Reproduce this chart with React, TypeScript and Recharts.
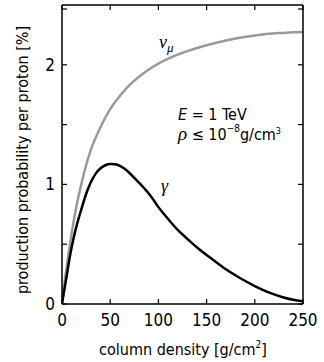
import React from "react";
import { LineChart, Line, XAxis, YAxis } from "recharts";

const numuX = [0, 2, 5, 10, 15, 20, 25, 30, 40, 50, 60, 70, 80, 90, 100, 120, 140, 160, 180, 200, 225, 250];
const numuY = [0, 0.14, 0.32, 0.59, 0.82, 1.0, 1.16, 1.29, 1.48, 1.63, 1.74, 1.83, 1.9, 1.96, 2.01, 2.085, 2.14, 2.185, 2.22, 2.245, 2.265, 2.275];

const gammaX = [0, 2, 5, 8, 12, 16, 20, 25, 30, 35, 40, 45, 50, 55, 60, 65, 70, 75, 80, 85, 90, 95, 100, 106, 112, 120, 130, 142, 155, 170, 185, 200, 215, 230, 240, 250];
const gammaY = [0, 0.1, 0.24, 0.39, 0.55, 0.68, 0.79, 0.92, 1.02, 1.09, 1.135, 1.16, 1.17, 1.168, 1.155, 1.13, 1.095, 1.055, 1.013, 0.97, 0.924, 0.869, 0.81, 0.75, 0.692, 0.62, 0.545, 0.46, 0.38, 0.29, 0.215, 0.15, 0.095, 0.055, 0.035, 0.022];

const xTicks = [0, 50, 100, 150, 200, 250];
const yTicks = [0, 0.5, 1, 1.5, 2, 2.5];
const yLabeled = [0, 1, 2];

const numuData = numuX.map((x, i) => ({ x, y: numuY[i] }));
const gammaData = gammaX.map((x, i) => ({ x, y: gammaY[i] }));

const FONT = "'Liberation Sans Narrow', 'DejaVu Sans Condensed', 'DejaVu Sans', sans-serif";
const GREEK = "'Liberation Serif', 'DejaVu Serif', serif";
const TL = 5;

const BottomTick = (props: any) => {
  const { x, y, payload } = props;
  return (
    <g>
      <line x1={x} y1={y} x2={x} y2={y - TL} stroke="#000" strokeWidth={1.2} />
      <text x={x} y={y + 22} textAnchor="middle" fontFamily={FONT} fontSize={17} fill="#000">
        {payload.value}
      </text>
    </g>
  );
};

const TopTick = (props: any) => {
  const { x, y } = props;
  return <line x1={x} y1={y} x2={x} y2={y + TL} stroke="#000" strokeWidth={1.2} />;
};

const LeftTick = (props: any) => {
  const { x, y, payload } = props;
  return (
    <g>
      <line x1={x} y1={y} x2={x + TL} y2={y} stroke="#000" strokeWidth={1.2} />
      {yLabeled.includes(payload.value) ? (
        <text x={x - 7} y={y + 6} textAnchor="end" fontFamily={FONT} fontSize={17} fill="#000">
          {payload.value}
        </text>
      ) : null}
    </g>
  );
};

const RightTick = (props: any) => {
  const { x, y } = props;
  return <line x1={x} y1={y} x2={x - TL} y2={y} stroke="#000" strokeWidth={1.2} />;
};

export default function App() {
  return (
    <div style={{ position: "absolute", left: 0, top: 0, width: 324, height: 362, background: "#fff" }}>
      <LineChart width={324} height={362} margin={{ top: 4, right: 20, bottom: 0, left: 0 }}>
        <XAxis
          xAxisId="b"
          dataKey="x"
          type="number"
          domain={[0, 250]}
          ticks={xTicks}
          height={58}
          tickSize={0}
          tickMargin={0}
          tick={<BottomTick />}
          axisLine={{ stroke: "#000", strokeWidth: 1.5 }}
          allowDataOverflow
        />
        <XAxis
          xAxisId="t"
          dataKey="x"
          orientation="top"
          type="number"
          domain={[0, 250]}
          ticks={xTicks}
          height={1}
          tickSize={0}
          tickMargin={0}
          tick={<TopTick />}
          axisLine={{ stroke: "#000", strokeWidth: 1.5 }}
          allowDataOverflow
        />
        <YAxis
          yAxisId="l"
          type="number"
          domain={[0, 2.5]}
          ticks={yTicks}
          width={62}
          tickSize={0}
          tickMargin={0}
          tick={<LeftTick />}
          axisLine={{ stroke: "#000", strokeWidth: 1.5 }}
          allowDataOverflow
        />
        <YAxis
          yAxisId="r"
          orientation="right"
          type="number"
          domain={[0, 2.5]}
          ticks={yTicks}
          width={1}
          tickSize={0}
          tickMargin={0}
          tick={<RightTick />}
          axisLine={{ stroke: "#000", strokeWidth: 1.5 }}
          allowDataOverflow
        />
        <Line
          xAxisId="t"
          yAxisId="r"
          data={numuData}
          dataKey="y"
          type="monotone"
          stroke="none"
          strokeWidth={0}
          dot={false}
          activeDot={false}
          isAnimationActive={false}
        />
        <Line
          xAxisId="b"
          yAxisId="l"
          data={numuData}
          dataKey="y"
          type="monotone"
          stroke="#9a9a9a"
          strokeWidth={2.5}
          dot={false}
          isAnimationActive={false}
        />
        <Line
          xAxisId="b"
          yAxisId="l"
          data={gammaData}
          dataKey="y"
          type="monotone"
          stroke="#000"
          strokeWidth={2.5}
          dot={false}
          isAnimationActive={false}
        />
      </LineChart>
      <svg width={324} height={362} style={{ position: "absolute", left: 0, top: 0, pointerEvents: "none" }}>
        <text
          transform="translate(28,160) rotate(-90)"
          textAnchor="middle"
          fontFamily={FONT}
          fontSize={16}
          fill="#000"
        >
          production probability per proton [%]
        </text>
        <text x={183} y={355} textAnchor="middle" fontFamily={FONT} fontSize={16} fill="#000">
          column density [g/cm
          <tspan dy={-7} fontSize={10}>2</tspan>
          <tspan dy={7}>]</tspan>
        </text>
        <text x={159} y={48} fontFamily={GREEK} fontStyle="italic" fontSize={18} fill="#000">
          ν<tspan dy={4} fontSize={13}>μ</tspan>
        </text>
        <text x={161} y={192} fontFamily={GREEK} fontStyle="italic" fontSize={18} fill="#000">
          γ
        </text>
        <text x={178} y={120} fontFamily={FONT} fontSize={16} fill="#000">
          <tspan fontStyle="italic">E</tspan> = 1 TeV
        </text>
        <text x={178} y={140} fontFamily={FONT} fontSize={16} fill="#000">
          <tspan fontFamily={GREEK} fontStyle="italic" fontSize={19}>ρ</tspan> ≤ 10
          <tspan dy={-8} fontSize={10}>−8</tspan>
          <tspan dy={8}>g/cm</tspan>
          <tspan dy={-6} fontSize={9}>3</tspan>
        </text>
      </svg>
    </div>
  );
}
